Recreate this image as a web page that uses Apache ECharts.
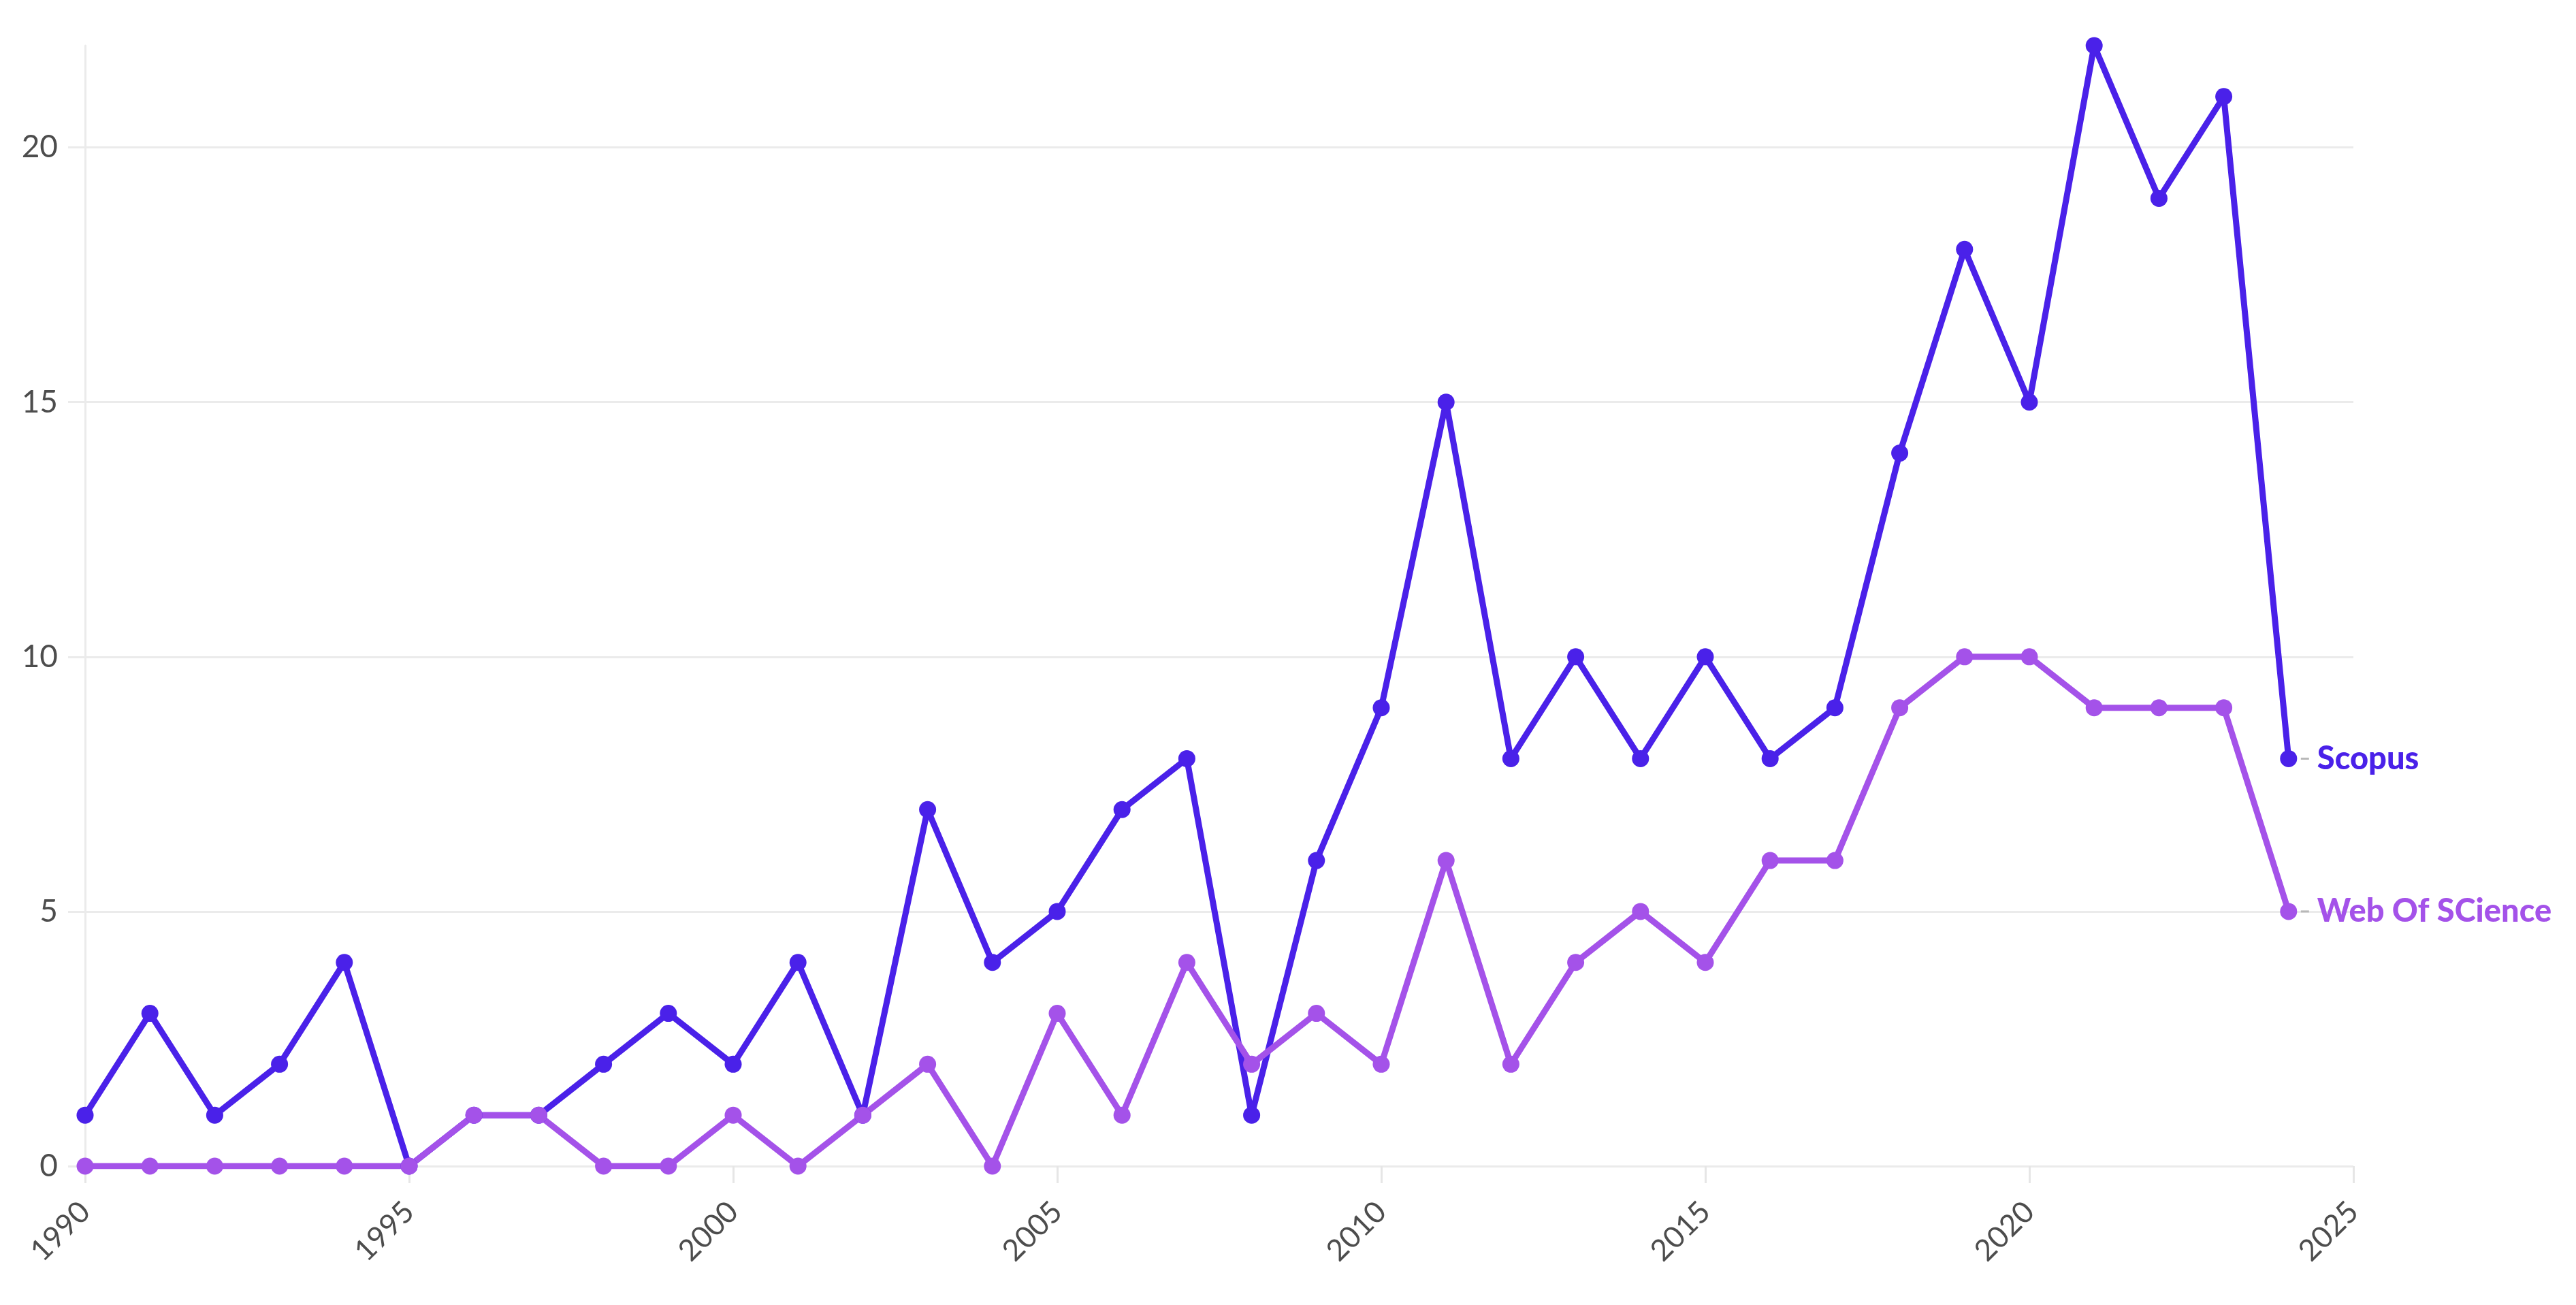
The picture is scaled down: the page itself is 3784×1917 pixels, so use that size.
<!DOCTYPE html>
<html><head><meta charset="utf-8">
<script src="https://cdn.jsdelivr.net/npm/echarts@6/dist/echarts.min.js"></script>
<style>html,body{margin:0;padding:0;background:#fff}#c{width:3784px;height:1917px}</style>
</head><body><div id="c"></div>
<script>
var years = [1990,1991,1992,1993,1994,1995,1996,1997,1998,1999,2000,2001,2002,2003,2004,2005,2006,2007,2008,2009,2010,2011,2012,2013,2014,2015,2016,2017,2018,2019,2020,2021,2022,2023,2024];
var scopus = [1,3,1,2,4,0,1,1,2,3,2,4,1,7,4,5,7,8,1,6,9,15,8,10,8,10,8,9,14,18,15,22,19,21,8];
var wos = [0,0,0,0,0,0,1,1,0,0,1,0,1,2,0,3,1,4,2,3,2,6,2,4,5,4,6,6,9,10,10,9,9,9,5];
var seriesNames = ['Scopus','Web Of SCience'];
var colors = ['#4a21e9','#a452e9'];

function pairs(vals){ return years.map(function(y,i){ return [y, vals[i]]; }); }
function mk(name, vals, color){
  return {
    name: name, type: 'line', data: pairs(vals),
    symbol: 'circle', symbolSize: 25,
    lineStyle: { color: color, width: 9 },
    itemStyle: { color: color },
    emphasis: { disabled: true },
    endLabel: {
      show: true, distance: 18,
      formatter: '{d|}{n|' + name + '}',
      rich: {
        d: { width: 12, height: 3, backgroundColor: '#b8b8b8', verticalAlign: 'middle' },
        n: { color: color, fontWeight: 900, fontSize: 47, fontFamily: 'Lato', padding: [0,0,0,12], verticalAlign: 'middle' }
      }
    }
  };
}
var chart = echarts.init(document.getElementById('c'));
chart.setOption({
  animation: false,
  textStyle: { fontFamily: 'Lato' },
  grid: { left: 125, right: 327, top: 67, bottom: 204 },
  xAxis: {
    type: 'value', min: 1990, max: 2025, interval: 5,
    axisLine: { show: false },
    axisTick: { show: true, length: 25, lineStyle: { color: '#e6e6e6', width: 3 } },
    splitLine: { show: false },
    axisLabel: { rotate: 45, margin: 60, fontSize: 44, color: '#4d4d4d', fontFamily: 'Lato', formatter: function(v){ return String(v); } }
  },
  yAxis: {
    type: 'value', min: 0, max: 22, interval: 5,
    axisLine: { show: true, lineStyle: { color: '#ebebeb', width: 3 } },
    axisTick: { show: true, length: 25, lineStyle: { color: '#ebebeb', width: 3 } },
    splitLine: { show: true, showMaxLine: false, lineStyle: { color: '#ebebeb', width: 3 } },
    axisLabel: { margin: 40, fontSize: 46, color: '#4d4d4d', fontFamily: 'Lato', showMaxLabel: false }
  },
  series: [ mk(seriesNames[0], scopus, colors[0]), mk(seriesNames[1], wos, colors[1]) ]
});
</script></body></html>
